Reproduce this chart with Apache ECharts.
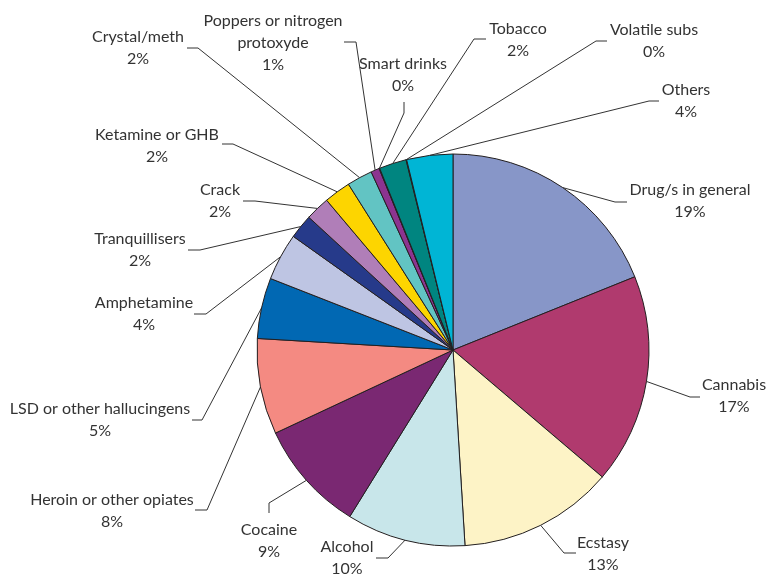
<!DOCTYPE html>
<html>
<head>
<meta charset="utf-8">
<script src="https://cdn.jsdelivr.net/npm/echarts@6/dist/echarts.min.js"></script>
<style>
html,body{margin:0;padding:0;background:#fff;}
#chart{width:771px;height:577px;}
</style>
</head>
<body>
<div id="chart"></div>
<script>
// ---- data ----
const categories = [
  'Drug/s in general', 'Cannabis', 'Ecstasy', 'Alcohol', 'Cocaine',
  'Heroin or other opiates', 'LSD or other hallucingens', 'Amphetamine',
  'Tranquillisers', 'Crack', 'Ketamine or GHB', 'Crystal/meth',
  'Poppers or nitrogen\nprotoxyde', 'Smart drinks', 'Tobacco', 'Volatile subs', 'Others'
];
const values = [18.9, 17.3, 12.8, 9.8, 9.2, 7.9, 5.0, 3.9, 2.0, 2.0, 2.2, 2.1, 0.7, 0.05, 2.25, 0.05, 3.8];

// ---- styles ----
const colors = [
  '#8796C8', '#B03A6E', '#FDF3C6', '#C8E6EA', '#7A2872',
  '#F48A82', '#0168B3', '#BEC5E3', '#263A8A', '#B07EB8',
  '#FDD500', '#62C4C3', '#8C3490', '#4B2C86', '#008580', '#006B6B', '#00B5D5'
];
// label layout: [textCenterX, textCenterY, bendX, bendY, endX, endY]
const labelPlacement = [
  [690, 201, 615, 202, 627, 202],
  [734, 396, 690, 397, 700, 397],
  [603, 554, 564, 553, 576, 553],
  [347, 558, 388, 558, 376, 558],
  [269, 541, 269, 503, 269, 513],
  [112, 511, 207, 510, 195, 510],
  [100, 420, 202, 420, 192, 420],
  [144, 314, 206, 314, 194, 314],
  [140, 250, 200, 250, 188, 250],
  [220, 201, 255, 201, 243, 201],
  [157, 146, 233, 144, 222, 144],
  [138, 48, 198, 48, 187, 48],
  [273, 43, 356, 42, 344, 42],
  [403, 75, 404, 113, 404, 102],
  [518, 40, 474, 39, 486, 39],
  [654, 41, 596, 41, 607, 41],
  [686, 101, 649, 101, 659, 101]
];

const chart = echarts.init(document.getElementById('chart'), null, {renderer: 'canvas'});
chart.setOption({
  backgroundColor: '#ffffff',
  animation: false,
  series: [{
    type: 'pie',
    center: [453, 350],
    radius: 196,
    startAngle: 90,
    clockwise: true,
    avoidLabelOverlap: false,
    minShowLabelAngle: 0,
    data: categories.map((c, i) => ({
      name: c,
      value: values[i],
      itemStyle: { color: colors[i] }
    })),
    itemStyle: { borderColor: '#231F20', borderWidth: 1 },
    label: {
      show: true,
      position: 'outer',
      fontFamily: 'Lato',
      fontSize: 16,
      lineHeight: 22,
      color: '#333333',
      formatter: p => p.name + '\n' + Math.round(p.percent) + '%'
    },
    labelLine: {
      show: true,
      length: 20,
      length2: 10,
      lineStyle: { color: '#333333', width: 1 }
    },
    emphasis: { disabled: true },
    labelLayout: function (params) {
      const L = labelPlacement[params.dataIndex];
      const p0 = params.labelLinePoints ? params.labelLinePoints[0] : [L[2], L[3]];
      return {
        x: L[0],
        y: L[1],
        align: 'center',
        verticalAlign: 'middle',
        labelLinePoints: [p0, [L[2], L[3]], [L[4], L[5]]]
      };
    }
  }]
});
</script>
</body>
</html>
